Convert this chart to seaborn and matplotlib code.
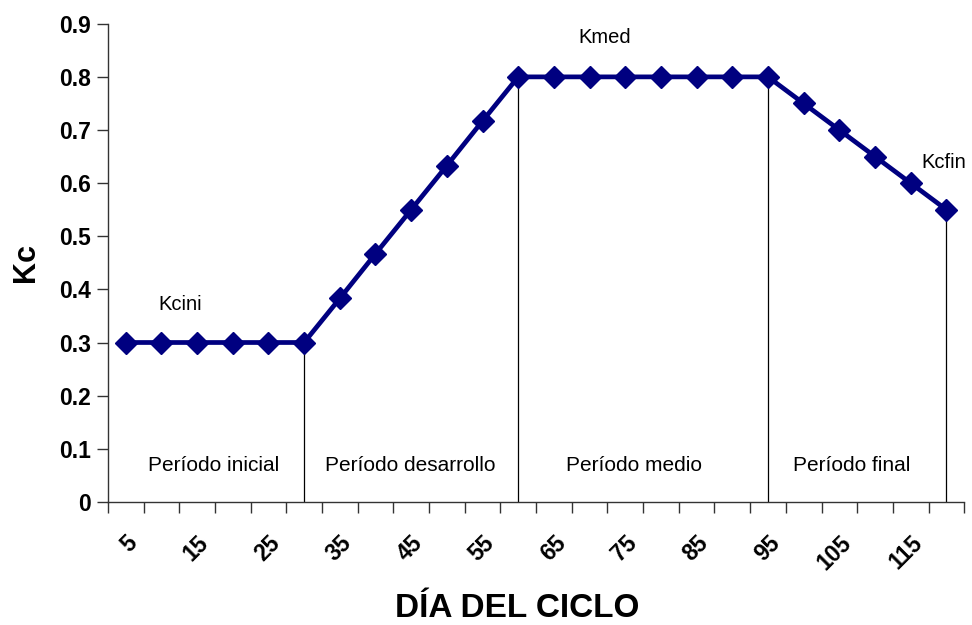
#!/usr/bin/env python3

# plot.py
#
# Crop coefficient (Kc) curve over the crop cycle.
import matplotlib.pyplot as plt
import matplotlib.transforms as mtransforms
import pandas as pd
import seaborn as sns


DAYS = [5, 10, 15, 20, 25, 30, 35, 40, 45, 50, 55, 60,
        65, 70, 75, 80, 85, 90, 95, 100, 105, 110, 115, 120]
KC = [0.30, 0.30, 0.30, 0.30, 0.30, 0.30, 0.383, 0.467, 0.55, 0.633, 0.717, 0.80,
      0.80, 0.80, 0.80, 0.80, 0.80, 0.80, 0.80, 0.75, 0.70, 0.65, 0.60, 0.55]
TICK_DAYS = [5, 15, 25, 35, 45, 55, 65, 75, 85, 95, 105, 115]
STAGE_END_DAYS = [30, 60, 95, 120]
STAGE_END_KC = [0.30, 0.80, 0.80, 0.55]


def main():
    data = pd.DataFrame({'dia': DAYS, 'kc': KC})

    sns.set_theme(style='white')
    plt.rcParams['font.family'] = ['Liberation Sans', 'DejaVu Sans']
    plt.rcParams['text.color'] = 'black'
    plt.rcParams['axes.labelcolor'] = 'black'
    plt.rcParams['xtick.color'] = 'black'
    plt.rcParams['ytick.color'] = 'black'

    fig = plt.figure(figsize=(9.72, 6.25), dpi=100)
    ax = fig.add_axes([0.111, 0.197, 0.881, 0.765])

    # Stage boundary lines
    ax.vlines(STAGE_END_DAYS, 0, STAGE_END_KC, color='black', linewidth=0.9, zorder=1)

    sns.lineplot(data=data, x='dia', y='kc', ax=ax, color='#000080', linewidth=3.4,
                 marker='D', markersize=11, markeredgecolor='#000080',
                 markeredgewidth=1, zorder=3)

    # Annotations
    ax.text(12.7, 0.372, 'Kcini', fontsize=14.5, ha='center', va='center')
    ax.text(72.1, 0.875, 'Kmed', fontsize=14.5, ha='center', va='center')
    ax.text(119.7, 0.638, 'Kcfin', fontsize=14.5, ha='center', va='center')
    for xpos, label in [(17.3, 'Período inicial'), (44.9, 'Período desarrollo'),
                        (76.2, 'Período medio'), (106.8, 'Período final')]:
        ax.text(xpos, 0.068, label, fontsize=15, ha='center', va='center')

    ax.set_xlim(2.5, 122.5)
    ax.set_ylim(0, 0.9)
    ax.set_yticks([i / 10 for i in range(10)])
    ax.set_yticklabels(['0'] + ['{:.1f}'.format(i / 10) for i in range(1, 10)],
                       fontsize=16.5, fontweight='bold')
    ax.set_xticks(TICK_DAYS)
    ax.set_xticklabels([str(d) for d in TICK_DAYS], fontsize=16.5, fontweight='bold',
                       rotation=45, ha='right', va='top', rotation_mode='anchor')
    shift = mtransforms.ScaledTranslation(-0.18, 0, fig.dpi_scale_trans)
    for lbl in ax.get_xticklabels():
        lbl.set_transform(lbl.get_transform() + shift)
    ax.set_xticks([2.5 + 5 * i for i in range(25)], minor=True)
    ax.tick_params(axis='x', which='major', length=0, pad=21)
    ax.tick_params(axis='x', which='minor', length=8, width=1, color='#333333',
                   direction='out', bottom=True)
    ax.tick_params(axis='y', length=8, width=1, color='#333333', direction='out',
                   left=True, pad=4)

    sns.despine(ax=ax)
    for side in ['left', 'bottom']:
        ax.spines[side].set_color('#333333')
        ax.spines[side].set_linewidth(1)

    ax.set_xlabel('DÍA DEL CICLO', fontsize=24, fontweight='bold', va='center')
    ax.xaxis.set_label_coords(0.478, -0.224)
    ax.set_ylabel('Kc', fontsize=22, fontweight='bold', va='center')
    ax.yaxis.set_label_coords(-0.096, 0.5)

    fig.savefig('out.png', dpi=100)
    plt.close()


if __name__ == '__main__':
    main()
